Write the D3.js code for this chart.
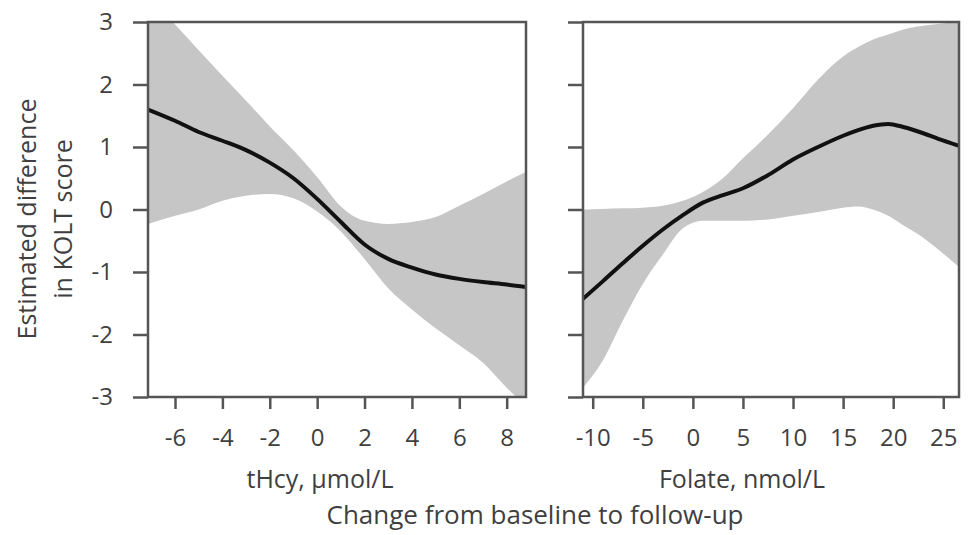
<!DOCTYPE html>
<html>
<head>
<meta charset="utf-8">
<script src="https://cdn.jsdelivr.net/npm/d3@7"></script>
<style>
  body { margin: 0; background: #fff; }
  text { font-family: "Open Sans", sans-serif; fill: #3f3f3f; }
</style>
</head>
<body>
<div id="chart"></div>
<script>
// tHcy panel: x, fitted line, lower and upper confidence limits
var hcyX     = [-7.14, -6, -5, -4, -3, -2, -1, 0, 1, 2, 3, 4, 5, 6, 7, 8, 8.81];
var hcyFit   = [1.6, 1.42, 1.24, 1.1, 0.95, 0.75, 0.5, 0.17, -0.2, -0.56, -0.79, -0.93, -1.04, -1.11, -1.16, -1.2, -1.24];
var hcyLow   = [-0.23, -0.1, 0.0, 0.14, 0.22, 0.25, 0.18, -0.03, -0.35, -0.79, -1.26, -1.6, -1.9, -2.17, -2.45, -2.85, -3.15];
var hcyHigh  = [3.43, 2.96, 2.55, 2.14, 1.74, 1.33, 0.95, 0.52, 0.05, -0.18, -0.23, -0.2, -0.12, 0.06, 0.25, 0.45, 0.6];

// Folate panel
var folX     = [-10.97, -9, -7, -5, -3, -1, 1, 3, 5, 7.5, 10, 12.5, 15, 16.5, 18, 19.5, 21, 23, 24.5, 26.57];
var folFit   = [-1.43, -1.15, -0.86, -0.58, -0.32, -0.09, 0.11, 0.23, 0.34, 0.55, 0.8, 1.0, 1.18, 1.27, 1.34, 1.37, 1.32, 1.22, 1.13, 1.02];
var folLow   = [-2.85, -2.42, -1.78, -1.19, -0.72, -0.3, -0.18, -0.18, -0.18, -0.16, -0.1, -0.04, 0.03, 0.05, 0.0, -0.1, -0.25, -0.45, -0.64, -0.92];
var folHigh  = [0.0, 0.01, 0.02, 0.03, 0.06, 0.14, 0.28, 0.5, 0.82, 1.2, 1.62, 2.08, 2.45, 2.6, 2.72, 2.8, 2.88, 2.94, 2.97, 3.0];

var yTicks   = [-3, -2, -1, 0, 1, 2, 3];
var hcyTicks = [-6, -4, -2, 0, 2, 4, 6, 8];
var folTicks = [-10, -5, 0, 5, 10, 15, 20, 25];

var width = 970, height = 535;
var svg = d3.select("#chart").append("svg")
    .attr("width", width)
    .attr("height", height);

var y = d3.scaleLinear().domain([-3, 3]).range([397, 22]);
var plain = function(d) { return String(d); };

function panel(id, xs, fit, low, high, domain, range, ticks, showLabels, title, titleX) {
    var x = d3.scaleLinear().domain(domain).range(range);
    var rows = xs.map(function(v, i) { return { x: v, fit: fit[i], low: low[i], high: high[i] }; });

    svg.append("clipPath").attr("id", id)
        .append("rect")
        .attr("x", range[0]).attr("y", y(3))
        .attr("width", range[1] - range[0]).attr("height", y(-3) - y(3));

    var g = svg.append("g").attr("clip-path", "url(#" + id + ")");

    // confidence band
    g.append("path")
        .datum(rows)
        .attr("fill", "#c6c6c6")
        .attr("d", d3.area()
            .curve(d3.curveMonotoneX)
            .x(function(d) { return x(d.x); })
            .y0(function(d) { return y(d.low); })
            .y1(function(d) { return y(d.high); }));

    // fitted line
    g.append("path")
        .datum(rows)
        .attr("fill", "none")
        .attr("stroke", "#111")
        .attr("stroke-width", 4)
        .attr("d", d3.line()
            .curve(d3.curveMonotoneX)
            .x(function(d) { return x(d.x); })
            .y(function(d) { return y(d.fit); }));

    // frame
    svg.append("rect")
        .attr("x", range[0]).attr("y", y(3))
        .attr("width", range[1] - range[0]).attr("height", y(-3) - y(3))
        .attr("fill", "none")
        .attr("stroke", "#555")
        .attr("stroke-width", 2.5);

    // y axis
    var ya = svg.append("g")
        .attr("transform", "translate(" + range[0] + ",0)")
        .call(d3.axisLeft(y).tickValues(yTicks).tickSize(15).tickSizeOuter(0).tickPadding(20)
            .tickFormat(showLabels ? plain : ""));
    ya.select(".domain").remove();
    ya.selectAll("line").attr("stroke", "#555").attr("stroke-width", 2.5);
    ya.selectAll("text").style("font-size", "24px").attr("fill", "#3f3f3f");

    // x axis
    var xa = svg.append("g")
        .attr("transform", "translate(0," + y(-3) + ")")
        .call(d3.axisBottom(x).tickValues(ticks).tickSize(12).tickSizeOuter(0).tickPadding(20)
            .tickFormat(plain));
    xa.select(".domain").remove();
    xa.selectAll("line").attr("stroke", "#555").attr("stroke-width", 2.5);
    xa.selectAll("text").style("font-size", "24px").attr("fill", "#3f3f3f");

    svg.append("text")
        .attr("x", titleX).attr("y", 488)
        .attr("text-anchor", "middle")
        .style("font-size", "25px")
        .text(title);
}

panel("clipHcy", hcyX, hcyFit, hcyLow, hcyHigh, [-7.14, 8.815], [148, 526], hcyTicks, true, "tHcy, µmol/L", 320);
panel("clipFol", folX, folFit, folLow, folHigh, [-10.97, 26.57], [583, 959], folTicks, false, "Folate, nmol/L", 742);

// shared titles
svg.append("text")
    .attr("x", 535).attr("y", 524)
    .attr("text-anchor", "middle")
    .style("font-size", "26px")
    .text("Change from baseline to follow-up");

var yt = svg.append("text")
    .attr("transform", "translate(0,219) rotate(-90)")
    .attr("text-anchor", "middle")
    .style("font-size", "25px");
yt.append("tspan").attr("x", 0).attr("y", 36).text("Estimated difference");
yt.append("tspan").attr("x", 0).attr("y", 72).text("in KOLT score");
</script>
</body>
</html>
